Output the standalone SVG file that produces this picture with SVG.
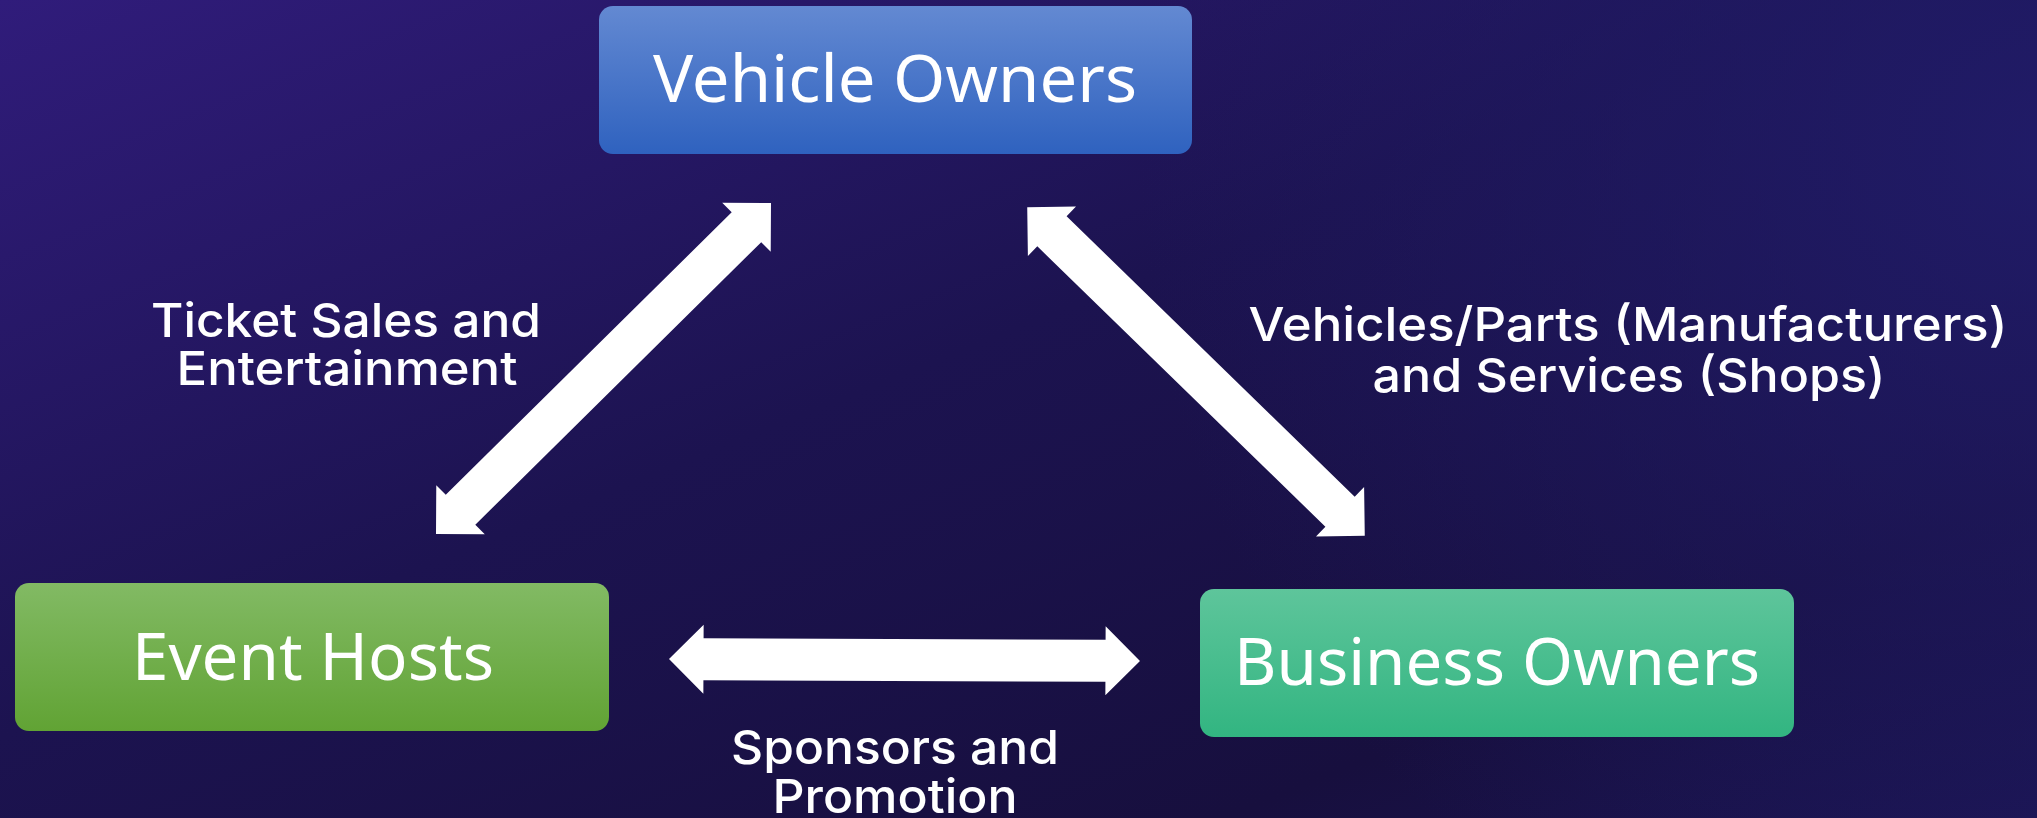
<svg xmlns="http://www.w3.org/2000/svg" xmlns:xlink="http://www.w3.org/1999/xlink" width="2037" height="818" viewBox="0 0 2037 818">
  <defs>
    <linearGradient id="bg" x1="0" y1="0" x2="1" y2="1">
      <stop offset="0" stop-color="#301C7B"/>
      <stop offset="0.45" stop-color="#1C1350"/>
      <stop offset="0.8" stop-color="#170F3E"/>
      <stop offset="1" stop-color="#1A1450"/>
    </linearGradient>
    <radialGradient id="bgR" cx="2037" cy="150" r="900" gradientUnits="userSpaceOnUse">
      <stop offset="0" stop-color="#211C6A" stop-opacity="0.9"/>
      <stop offset="1" stop-color="#211C6A" stop-opacity="0"/>
    </radialGradient>
    <linearGradient id="gBlue" x1="0" y1="0" x2="0" y2="1">
      <stop offset="0" stop-color="#6389D2"/>
      <stop offset="1" stop-color="#2F62BF"/>
    </linearGradient>
    <linearGradient id="gGreen" x1="0" y1="0" x2="0" y2="1">
      <stop offset="0" stop-color="#82BA64"/>
      <stop offset="1" stop-color="#61A334"/>
    </linearGradient>
    <linearGradient id="gTeal" x1="0" y1="0" x2="0" y2="1">
      <stop offset="0" stop-color="#5EC59B"/>
      <stop offset="1" stop-color="#32B581"/>
    </linearGradient>
    <path id="dblArrow" d="M235.5,0 L201,34.5 L201,21 L-201,21 L-201,34.5 L-235.5,0 L-201,-34.5 L-201,-21 L201,-21 L201,-34.5 Z"/>
    <style>
      .box-label { font-family: "Noto Sans", "Open Sans", sans-serif; font-size: 66px; fill: #FFFFFF; text-anchor: middle; }
      .edge-label { font-family: Inter, Lato, "DejaVu Sans", sans-serif; font-weight: 500; font-size: 47px; fill: #FFFFFF; text-anchor: middle; }
      .arrow { fill: #FFFFFF; }
    </style>
  </defs>

  <rect x="0" y="0" width="2037" height="818" fill="url(#bg)"/>
  <rect x="0" y="0" width="2037" height="818" fill="url(#bgR)"/>

  <g id="connectors">
    <use xlink:href="#dblArrow" class="arrow" transform="translate(603.5,368.5) rotate(-44.66)"/>
    <use xlink:href="#dblArrow" class="arrow" transform="translate(1196,371.5) rotate(44.22)"/>
    <use xlink:href="#dblArrow" class="arrow" transform="translate(904.5,660) rotate(0.24)"/>
    <text class="edge-label"><tspan x="346" y="337" textLength="390" lengthAdjust="spacingAndGlyphs">Ticket Sales and</tspan><tspan x="347" y="385" textLength="341" lengthAdjust="spacingAndGlyphs">Entertainment</tspan></text>
    <text class="edge-label"><tspan x="1628" y="341" textLength="759" lengthAdjust="spacingAndGlyphs">Vehicles/Parts (Manufacturers)</tspan><tspan x="1629" y="392" textLength="513" lengthAdjust="spacingAndGlyphs">and Services (Shops)</tspan></text>
    <text class="edge-label"><tspan x="895" y="764" textLength="328" lengthAdjust="spacingAndGlyphs">Sponsors and</tspan><tspan x="895" y="813" textLength="245" lengthAdjust="spacingAndGlyphs">Promotion</tspan></text>
  </g>

  <g id="vehicle-owners">
    <rect x="599" y="6" width="593" height="148" rx="14" fill="url(#gBlue)"/>
    <text class="box-label" x="895" y="102" textLength="484" lengthAdjust="spacingAndGlyphs">Vehicle Owners</text>
  </g>

  <g id="event-hosts">
    <rect x="15" y="583" width="594" height="148" rx="14" fill="url(#gGreen)"/>
    <text class="box-label" x="313" y="680" textLength="362" lengthAdjust="spacingAndGlyphs">Event Hosts</text>
  </g>

  <g id="business-owners">
    <rect x="1200" y="589" width="594" height="148" rx="14" fill="url(#gTeal)"/>
    <text class="box-label" x="1497" y="685" textLength="526" lengthAdjust="spacingAndGlyphs">Business Owners</text>
  </g>
</svg>
